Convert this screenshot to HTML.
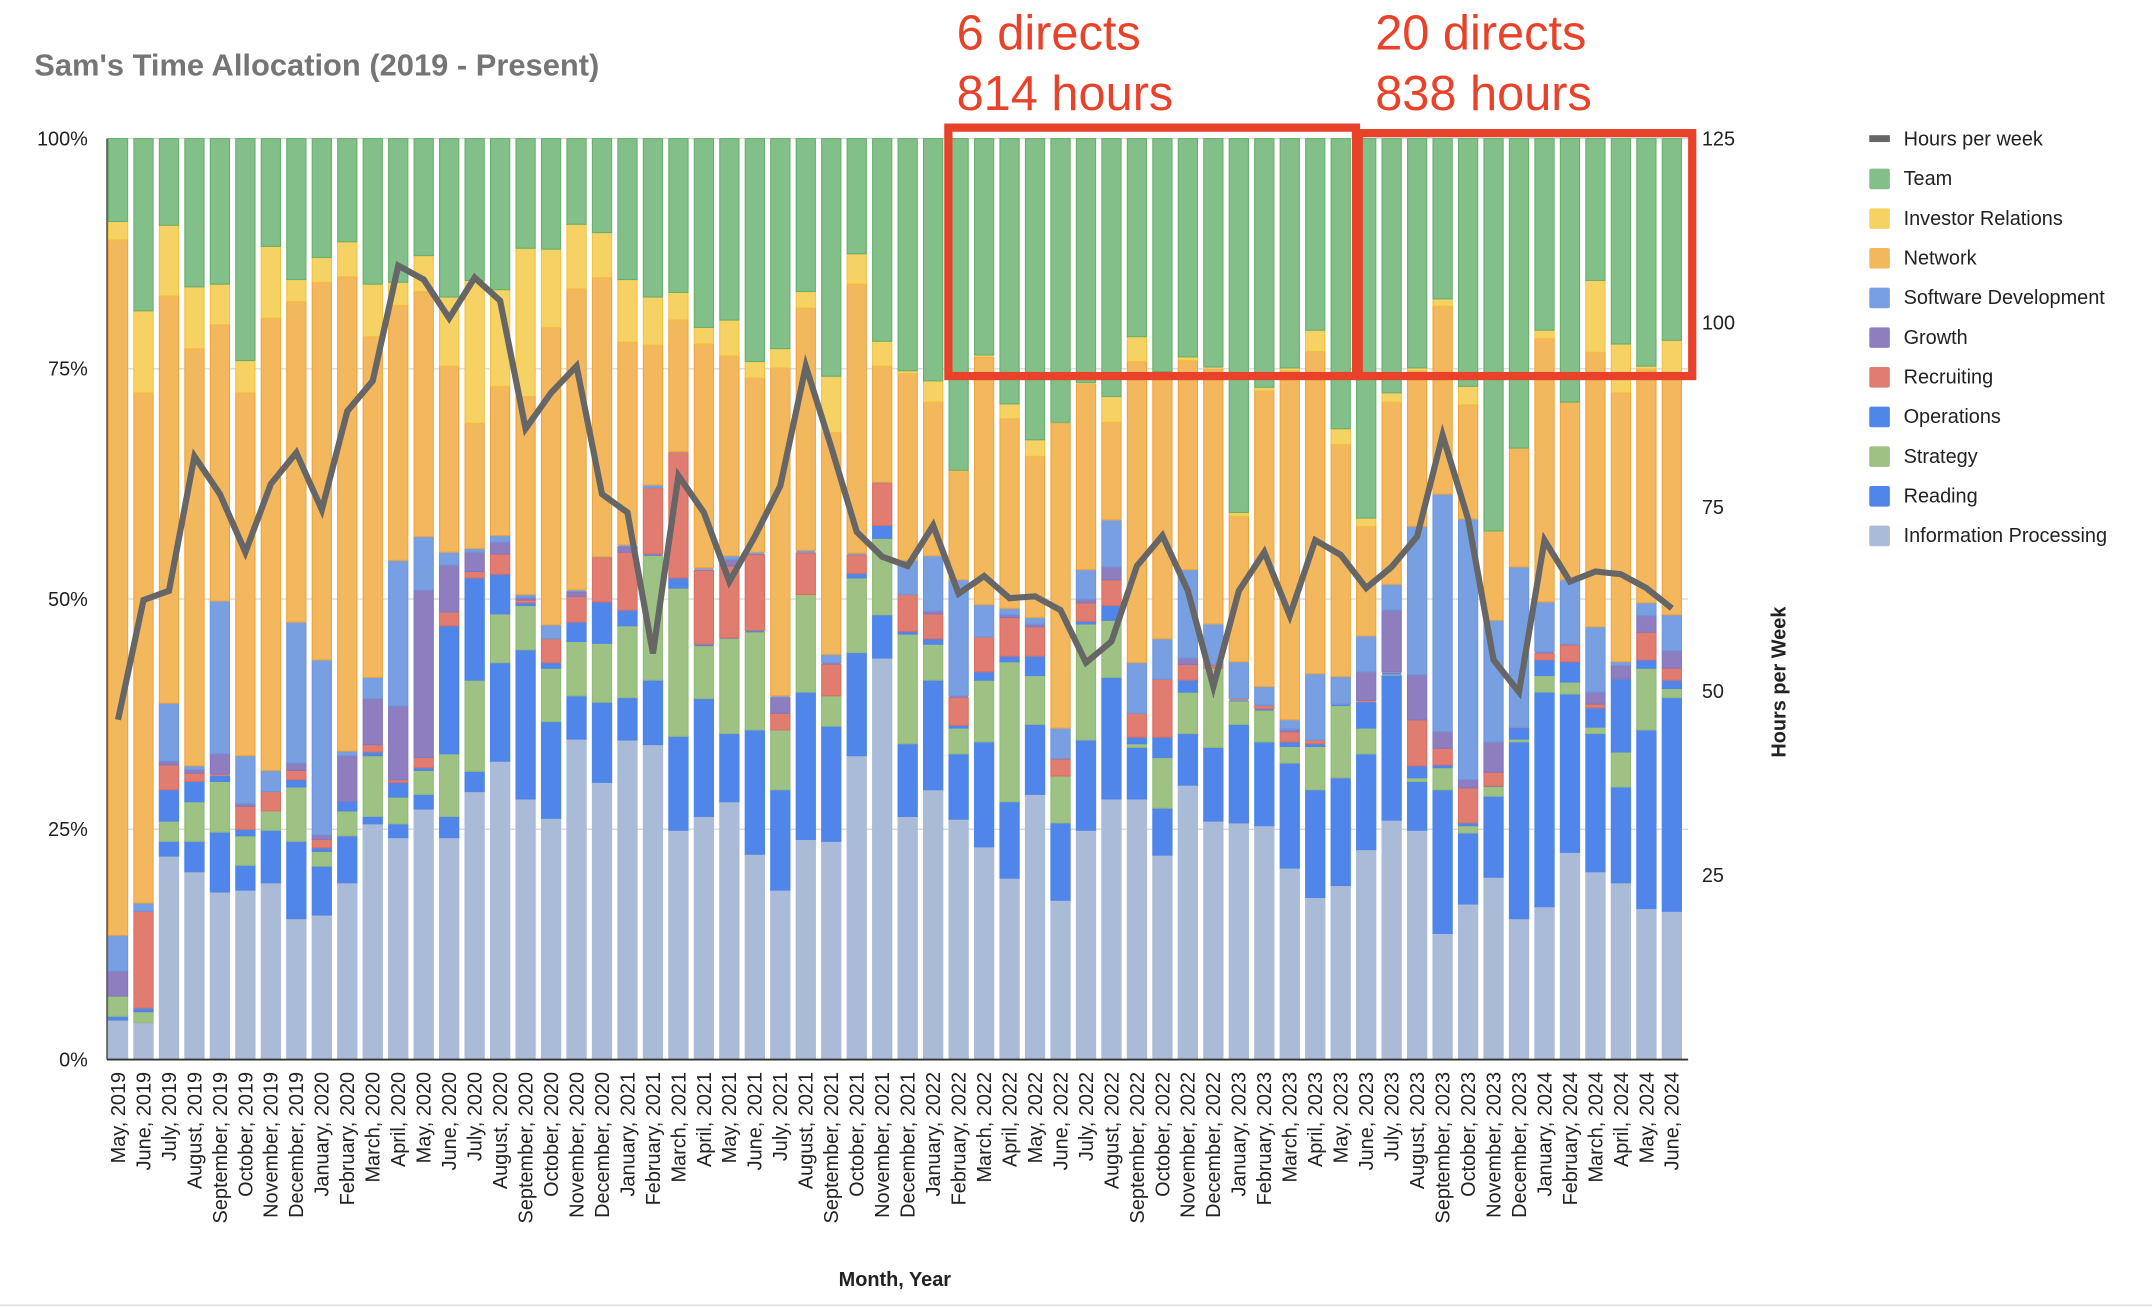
<!DOCTYPE html>
<html><head><meta charset="utf-8"><style>
html,body{margin:0;padding:0;background:#fff;}
svg{display:block;font-family:"Liberation Sans",Arial,sans-serif;}
</style></head><body>
<svg id="c" width="2152" height="1308" viewBox="0 0 1568 953" preserveAspectRatio="none" xmlns="http://www.w3.org/2000/svg"></svg>
<script>
(function(){
var D=[
[4.3,4.7,6.9,6.9,6.9,9.6,13.5,89,91],
[4,4,5.2,5.6,16.1,16.1,17,72.4,81.3],
[22.1,23.7,25.9,29.3,32,32.4,38.7,82.9,90.6],
[20.4,23.7,28,30.2,31.1,31.5,31.9,77.2,83.9],
[18.2,24.7,30.2,30.8,31,33.2,49.8,79.8,84.2],
[18.4,21.1,24.3,25,27.5,27.8,33,72.4,75.9],
[19.2,24.9,27,27,29.1,29.1,31.4,80.5,88.3],
[15.3,23.7,29.6,30.4,31.4,32.2,47.5,82.3,84.7],
[15.7,21,22.6,23,23.9,24.4,43.4,84.4,87.1],
[19.2,24.3,27,28,28,33,33.5,85,88.8],
[25.6,26.4,33,33.4,34.2,39.2,41.5,78.5,84.2],
[24.1,25.6,28.5,30.1,30.4,38.4,54.2,81.9,84.4],
[27.2,28.8,31.4,31.7,32.8,51,56.8,83.4,87.3],
[24.1,26.4,33.2,47.1,48.6,53.7,55.1,75.3,82.8],
[29.1,31.3,41.2,52.3,53,55.1,55.5,69.1,84.6],
[32.4,43.1,48.4,52.7,54.9,56.2,56.9,73.1,83.6],
[28.3,44.5,49.3,49.6,49.9,50.2,50.5,72,88.1],
[26.2,36.7,42.5,43.1,45.7,45.7,47.2,79.5,88],
[34.8,39.5,45.4,47.5,50.3,50.8,51,83.7,90.7],
[30.1,38.8,45.2,49.7,54.5,54.5,54.6,84.9,89.8],
[34.7,39.3,47.1,48.8,55.1,55.7,55.9,77.9,84.7],
[34.2,41.2,54.7,54.9,62.1,62.1,62.4,77.6,82.8],
[24.9,35.1,51.2,52.3,65.9,65.9,66,80.3,83.3],
[26.4,39.2,44.9,45.1,53.1,53.2,53.4,77.7,79.5],
[28,35.4,45.7,45.8,53.6,54.3,54.7,76.4,80.3],
[22.3,35.8,46.4,46.6,54.8,54.9,55.1,74,75.8],
[18.4,29.3,35.8,35.8,37.6,39.3,39.5,75.1,77.2],
[23.9,39.9,50.5,50.5,55,55.1,55.3,81.6,83.4],
[23.7,36.2,39.5,39.5,42.9,43.1,44,68.1,74.2],
[33,44.2,52.3,52.8,54.8,54.8,55,84.2,87.5],
[43.6,48.3,56.6,58,62.6,62.6,62.7,75.3,78],
[26.4,34.3,46.2,46.5,50.5,50.5,54.2,74.5,74.8],
[29.3,41.2,45.1,45.7,48.4,48.7,54.7,71.4,73.7],
[26.1,33.2,36,36.3,39.3,39.5,52.1,64,64],
[23.1,34.5,41.2,42.1,45.9,45.9,49.4,76.3,76.5],
[19.7,28,43.2,43.8,48,48.3,49,69.6,71.2],
[28.8,36.4,41.7,43.8,47,47.3,48,65.5,67.3],
[17.3,25.7,30.8,30.8,32.6,32.7,36,69.1,69.2],
[24.9,34.7,47.3,47.6,49.6,50,53.2,73.3,73.5],
[28.3,41.5,47.7,49.3,52.1,53.5,58.6,69.2,72],
[28.3,33.9,34.3,35,37.6,37.6,43.1,75.8,78.5],
[22.2,27.3,32.8,35,41.3,41.3,45.7,74.6,74.7],
[29.8,35.4,39.9,41.2,42.9,43.6,53.2,75.9,76.3],
[25.9,33.9,42.5,42.5,42.8,42.9,47.3,75,75.2],
[25.7,36.4,38.9,39,39.2,39.2,43.2,59,59.4],
[25.4,34.5,37.9,38.1,38.4,38.5,40.5,72.6,73],
[20.8,32.2,34,34.5,35.6,35.9,36.9,74.8,75.1],
[17.6,29.3,34,34.3,34.7,34.7,41.9,76.9,79.2],
[18.9,30.6,38.4,38.6,38.6,38.6,41.6,66.8,68.5],
[22.8,33.2,36,38.8,39,42.1,46,57.9,58.8],
[26,41.7,41.8,42,42.1,48.8,51.6,71.4,72.4],
[24.9,30.2,30.6,31.9,36.9,41.8,57.9,74.8,75.1],
[13.7,29.3,31.7,32,33.8,35.6,61.4,81.8,82.6],
[16.9,24.6,25.4,25.7,29.5,30.4,58.7,71.1,73.1],
[19.8,28.6,29.6,29.7,31.2,34.5,47.7,57.4,57.4],
[15.3,34.5,34.8,36,36.1,36.1,53.5,66.4,66.4],
[16.6,39.9,41.7,43.4,44.1,44.3,49.7,78.3,79.2],
[22.5,39.7,41,43.2,45,45.1,52.1,71.4,71.4],
[20.4,35.4,36.1,38.2,38.6,39.9,47,76.8,84.6],
[19.2,29.6,33.4,41.3,41.4,42.8,43.2,72.4,77.7],
[16.4,35.8,42.5,43.4,46.4,48.2,49.6,75,75.3],
[16.1,39.3,40.3,41.2,42.5,44.4,48.3,74.6,78.1]];
var L=[36.9,49.9,50.9,65.5,61.4,55.1,62.5,65.9,59.7,70.4,73.7,86.2,84.7,80.5,84.9,82.4,68.5,72.4,75.3,61.4,59.4,44.1,63.4,59.4,51.9,56.8,62.3,75.3,66.5,57.3,54.6,53.6,58,50.6,52.5,50.1,50.3,48.8,43.1,45.4,53.6,56.9,50.9,40.5,50.9,55.1,48.2,56.4,54.8,51.2,53.5,56.8,67.8,58.7,43.4,39.9,56.4,51.9,53,52.7,51.2,49];
var C=[["#aabbd7","#aabbd7"],["#5085e9","#5085e9"],["#9dc283","#93bb78"],["#5085e9","#5085e9"],["#e07d70","#dc6f62"],["#8e7ec0","#8676bb"],["#779fe2","#6e97df"],["#f3b75e","#f0a53a"],["#f6d264","#f3c23a"],["#82bf89","#68b06f"]];
var MN=["January","February","March","April","May","June","July","August","September","October","November","December"];
var TOP=101,BOT=772,H=671;
function Y(p){return BOT-p/100*H;}
var s='';
s+='<text x="25" y="55" font-size="22.5" font-weight="bold" fill="#757575">Sam\'s Time Allocation (2019 - Present)</text>';
[0,25,50,75,100].forEach(function(p){
 s+='<line x1="78" x2="1230" y1="'+Y(p)+'" y2="'+Y(p)+'" stroke="#d8d8d8" stroke-width="1"/>';
 s+='<text x="64" y="'+(Y(p)+5)+'" font-size="14.5" text-anchor="end" fill="#222">'+p+'%</text>';
});
[25,50,75,100,125].forEach(function(h){
 s+='<text x="1240" y="'+(BOT-h/125*H+5)+'" font-size="14.5" fill="#222">'+h+'</text>';
});
var bw=14;
D.forEach(function(d,i){
 var cx=86+i*18.56;
 var b=[0].concat(d).concat([100]);
 for(var k=0;k<10;k++){
  var y0=Y(b[k+1]),y1=Y(b[k]),h=y1-y0;
  if(h<=0.05)continue;
  s+='<rect x="'+(cx-bw/2)+'" y="'+y0+'" width="'+bw+'" height="'+h+'" fill="'+C[k][0]+'" stroke="'+C[k][1]+'" stroke-width="'+(h>2?0.8:0)+'"/>';
 }
 var mi=(4+i)%12,yr=2019+Math.floor((4+i)/12);
 s+='<text transform="translate('+(cx+5)+',781) rotate(-90)" font-size="14.5" text-anchor="end" fill="#222">'+MN[mi]+', '+yr+'</text>';
});
s+='<line x1="78" x2="1230" y1="'+BOT+'" y2="'+BOT+'" stroke="#333" stroke-width="1.3"/>';
s+='<line x1="78" x2="78" y1="'+TOP+'" y2="'+BOT+'" stroke="#333" stroke-width="1"/>';
s+='<polyline fill="none" stroke="#666" stroke-width="4.5" points="'+L.map(function(v,i){return (86+i*18.56)+','+Y(v);}).join(' ')+'"/>';
s+='<text x="652" y="937" font-size="14.5" font-weight="bold" text-anchor="middle" fill="#222">Month, Year</text>';
s+='<text transform="translate(1301,497) rotate(-90)" font-size="14.5" font-weight="bold" text-anchor="middle" fill="#222">Hours per Week</text>';
s+='<rect x="691" y="93" width="297" height="181" fill="none" stroke="#e8432a" stroke-width="6"/>';
s+='<rect x="990" y="97" width="243" height="177" fill="none" stroke="#e8432a" stroke-width="6"/>';
s+='<text x="697" y="36" font-size="35.5" fill="#e8432a">6 directs</text><text x="697" y="80" font-size="35.5" fill="#e8432a">814 hours</text>';
s+='<text x="1002" y="36" font-size="35.5" fill="#e8432a">20 directs</text><text x="1002" y="80" font-size="35.5" fill="#e8432a">838 hours</text>';
var LG=["Hours per week","Team","Investor Relations","Network","Software Development","Growth","Recruiting","Operations","Strategy","Reading","Information Processing"];
var LC=["#666","#82bf89","#f6d264","#f3b75e","#779fe2","#8e7ec0","#e07d70","#5085e9","#9dc283","#5085e9","#aabbd7"];
LG.forEach(function(t,i){
 var yy=101+i*28.9;
 if(i==0) s+='<rect x="1362" y="'+(yy-2.5)+'" width="15" height="5" fill="#666"/>';
 else s+='<rect x="1362" y="'+(yy-7)+'" width="15" height="15" rx="1.5" fill="'+LC[i]+'"/>';
 s+='<text x="1387" y="'+(yy+5)+'" font-size="14.5" fill="#222">'+t+'</text>';
});
s+='<line x1="0" x2="1568" y1="951" y2="951" stroke="#e6e6e6" stroke-width="1.5"/>';
document.getElementById('c').innerHTML=s;
})();
</script>
</body></html>
